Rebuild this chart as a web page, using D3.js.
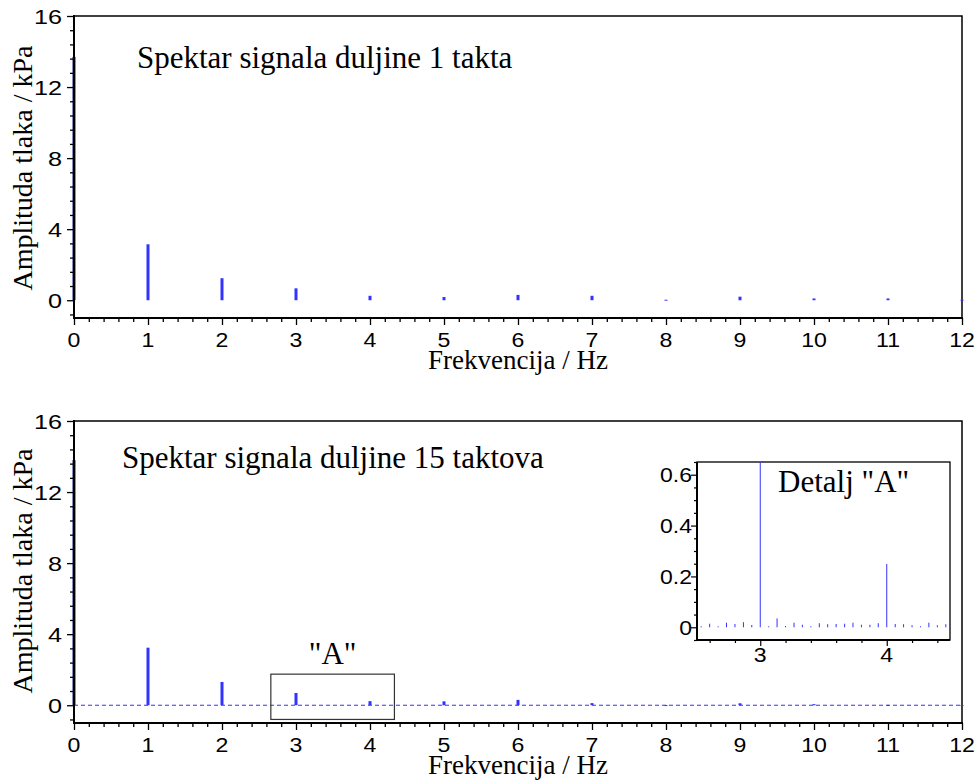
<!DOCTYPE html>
<html><head><meta charset="utf-8">
<script src="https://cdn.jsdelivr.net/npm/d3@7"></script>
<style>body{margin:0;background:#fff}svg{display:block}</style>
</head><body>
<svg id="chart" width="977" height="780"></svg>
<script>
// ---------- data ----------
const xTickValues = [0,1,2,3,4,5,6,7,8,9,10,11,12];
const yTickValues = [0,4,8,12,16];
const freqTop = [0,1,2,3,4,5,6,7,8,9,10,11,12];
const ampTop  = [13.7,3.15,1.24,0.67,0.25,0.18,0.30,0.25,0.03,0.20,0.10,0.10,0.03];
const freqBottom = [0,1,2,3,4,5,6,7,8,9,10,11,12];
const ampBottom  = [13.8,3.24,1.31,0.69,0.23,0.22,0.30,0.12,0.01,0.11,0.06,0.02,0.01];
const detailFreq = [2.533,2.6,2.667,2.733,2.8,2.867,2.933,3.0,3.067,3.133,3.2,3.267,3.333,3.4,3.467,3.533,3.6,3.667,3.733,3.8,3.867,3.933,4.0,4.067,4.133,4.2,4.267,4.333,4.4,4.467];
const detailAmp  = [0.003,0.014,0.003,0.018,0.013,0.020,0.009,0.68,0.004,0.035,0.005,0.018,0.010,0.004,0.016,0.012,0.013,0.014,0.018,0.010,0.010,0.016,0.249,0.013,0.012,0.008,0.004,0.018,0.008,0.012];
const detailXTicks = [3,4];
const detailYTicks = [0,0.2,0.4,0.6];
const boxA = {x0:2.66, x1:4.33, y0:-0.8, y1:1.75};
const titles = ["Spektar signala duljine 1 takta","Spektar signala duljine 15 taktova"];
const yLabel = "Amplituda tlaka / kPa";
const xLabel = "Frekvencija / Hz";
const detailLabel = 'Detalj "A"';
const boxLabel = '"A"';

const BLUE = "#3333ff";
const SERIF = "'Liberation Serif','Times New Roman',serif";
const SANS = "'Liberation Sans',Arial,sans-serif";

const svg = d3.select("#chart");

function panel(o){
  const g = svg.append("g");
  const x = d3.scaleLinear().domain([0,12]).range([74,962]);
  const y = d3.scaleLinear().domain([-1,16]).range([o.bottom,o.top]);

  g.append("path").attr("d",`M${x(0)},${y(16)}H${x(12)}V${y(-1)}`)
    .attr("fill","none").attr("stroke","#000").attr("stroke-width",1.5);

  if(o.dashed){
    g.append("line").attr("x1",x(0)).attr("x2",x(12)).attr("y1",y(0)).attr("y2",y(0))
      .attr("stroke",BLUE).attr("stroke-width",1).attr("stroke-dasharray","4,3");
  }
  g.selectAll("rect.bar").data(o.freq.map((f,i)=>({f,a:o.amp[i]}))).join("rect")
    .attr("class","bar")
    .attr("x",d=>x(d.f)-1.5).attr("width",3)
    .attr("y",d=>y(d.a)).attr("height",d=>Math.max(1,y(0)-y(d.a)))
    .attr("fill",d=>d.f===0?"#1a1a80":BLUE);

  const minorX = d3.range(0,12.001,0.2).filter(v=>Math.abs(v-Math.round(v))>1e-6);
  const gx = g.append("g").attr("transform",`translate(0,${o.bottom})`);
  gx.call(d3.axisBottom(x).tickValues(minorX).tickSize(4).tickFormat(""));
  gx.select(".domain").remove();
  const gx2 = g.append("g").attr("transform",`translate(0,${o.bottom})`);
  gx2.call(d3.axisBottom(x).tickValues(xTickValues).tickSize(7).tickFormat(""));
  gx2.select(".domain").remove();
  g.append("line").attr("x1",x(0)-1).attr("x2",x(12)+1).attr("y1",o.bottom).attr("y2",o.bottom)
    .attr("stroke","#000").attr("stroke-width",2);
  g.append("g").selectAll("text").data(xTickValues).join("text")
    .attr("transform",d=>`translate(${x(d)},${o.bottom+29}) scale(1.1,1)`)
    .attr("text-anchor","middle").attr("font-family",SANS).attr("font-size",21)
    .text(d=>d);

  const minorY = d3.range(-0.8,16.001,0.8).filter(v=>Math.abs(v/4-Math.round(v/4))>1e-6);
  const gy = g.append("g").attr("transform",`translate(${x(0)},0)`);
  gy.call(d3.axisLeft(y).tickValues(minorY).tickSize(4).tickFormat(""));
  gy.select(".domain").remove();
  const gy2 = g.append("g").attr("transform",`translate(${x(0)},0)`);
  gy2.call(d3.axisLeft(y).tickValues(yTickValues).tickSize(7).tickFormat(""));
  gy2.select(".domain").remove();
  g.selectAll(".tick line").attr("stroke","#000").attr("stroke-width",1.3);
  g.append("line").attr("x1",x(0)).attr("x2",x(0)).attr("y1",y(16)-1).attr("y2",o.bottom+1)
    .attr("stroke","#000").attr("stroke-width",2);
  g.append("g").selectAll("text").data(yTickValues).join("text")
    .attr("transform",d=>`translate(62,${y(d)+7.5}) scale(1.2,1)`)
    .attr("text-anchor","end").attr("font-family",SANS).attr("font-size",21)
    .text(d=>d);

  g.append("text").attr("transform",`translate(31.5,${o.yLabCy}) rotate(-90)`)
    .attr("text-anchor","middle").attr("font-family",SERIF).attr("font-size",28).text(yLabel);
  g.append("text").attr("x",518).attr("y",o.bottom+51)
    .attr("text-anchor","middle").attr("font-family",SERIF).attr("font-size",27).text(xLabel);
  g.append("text").attr("x",o.titleX).attr("y",o.titleY)
    .attr("font-family",SERIF).attr("font-size",31).text(o.title);
  return {x,y,g};
}

panel({top:16,bottom:318,freq:freqTop,amp:ampTop,dashed:false,title:titles[0],titleX:137,titleY:68,yLabCy:168});
const p2 = panel({top:421,bottom:723,freq:freqBottom,amp:ampBottom,dashed:true,title:titles[1],titleX:122,titleY:468,yLabCy:571});

p2.g.append("rect").attr("x",p2.x(boxA.x0)).attr("y",p2.y(boxA.y1))
  .attr("width",p2.x(boxA.x1)-p2.x(boxA.x0)).attr("height",p2.y(boxA.y0)-p2.y(boxA.y1))
  .attr("fill","none").attr("stroke","#333").attr("stroke-width",1.2);
p2.g.append("text").attr("x",(p2.x(boxA.x0)+p2.x(boxA.x1))/2).attr("y",p2.y(boxA.y1)-10)
  .attr("text-anchor","middle").attr("font-family",SERIF).attr("font-size",31).text(boxLabel);

(function(){
  const L=697,R=950,T=462,B=640;
  const g = svg.append("g");
  const x = d3.scaleLinear().domain([2.5,4.5]).range([L,R]);
  const y = d3.scaleLinear().domain([-0.05,0.65]).range([B,T]);
  g.append("rect").attr("x",L).attr("y",T).attr("width",R-L).attr("height",B-T)
    .attr("fill","#fff").attr("stroke","#000").attr("stroke-width",1.3);
  g.selectAll("line.dbar").data(detailFreq.map((f,i)=>({f,a:detailAmp[i]}))).join("line")
    .attr("class","dbar").attr("x1",d=>x(d.f)).attr("x2",d=>x(d.f))
    .attr("y1",y(0)).attr("y2",d=>Math.max(T,Math.min(y(d.a),y(0)-1)))
    .attr("stroke",BLUE).attr("stroke-width",1);
  const minorX = d3.range(2.6,4.45,0.2).filter(v=>Math.abs(v-Math.round(v))>1e-6);
  const gx = g.append("g").attr("transform",`translate(0,${B})`);
  gx.call(d3.axisBottom(x).tickValues(minorX).tickSize(3).tickFormat(""));
  gx.select(".domain").remove();
  const gx2 = g.append("g").attr("transform",`translate(0,${B})`);
  gx2.call(d3.axisBottom(x).tickValues(detailXTicks).tickSize(6).tickFormat(""));
  gx2.select(".domain").remove();
  const minorY = d3.range(-0.05,0.651,0.05).filter(v=>Math.abs(v/0.2-Math.round(v/0.2))>1e-6);
  const gy = g.append("g").attr("transform",`translate(${L},0)`);
  gy.call(d3.axisLeft(y).tickValues(minorY).tickSize(3).tickFormat(""));
  gy.select(".domain").remove();
  const gy2 = g.append("g").attr("transform",`translate(${L},0)`);
  gy2.call(d3.axisLeft(y).tickValues(detailYTicks).tickSize(6).tickFormat(""));
  gy2.select(".domain").remove();
  g.selectAll(".tick line").attr("stroke","#000").attr("stroke-width",1.2);
  g.append("line").attr("x1",L).attr("x2",R).attr("y1",B).attr("y2",B).attr("stroke","#000").attr("stroke-width",2);
  g.append("line").attr("x1",L).attr("x2",L).attr("y1",T).attr("y2",B).attr("stroke","#000").attr("stroke-width",2);
  g.append("g").selectAll("text").data(detailXTicks).join("text")
    .attr("transform",d=>`translate(${x(d)},${B+22}) scale(1.1,1)`)
    .attr("text-anchor","middle").attr("font-family",SANS).attr("font-size",21).text(d=>d);
  g.append("g").selectAll("text").data(detailYTicks).join("text")
    .attr("transform",d=>`translate(692,${y(d)+7.5}) scale(1.15,1)`)
    .attr("text-anchor","end").attr("font-family",SANS).attr("font-size",20).text(d=>d===0?"0":d.toFixed(1));
  g.append("text").attr("x",778).attr("y",492).attr("font-family",SERIF).attr("font-size",31).text(detailLabel);
})();
</script>
</body></html>
